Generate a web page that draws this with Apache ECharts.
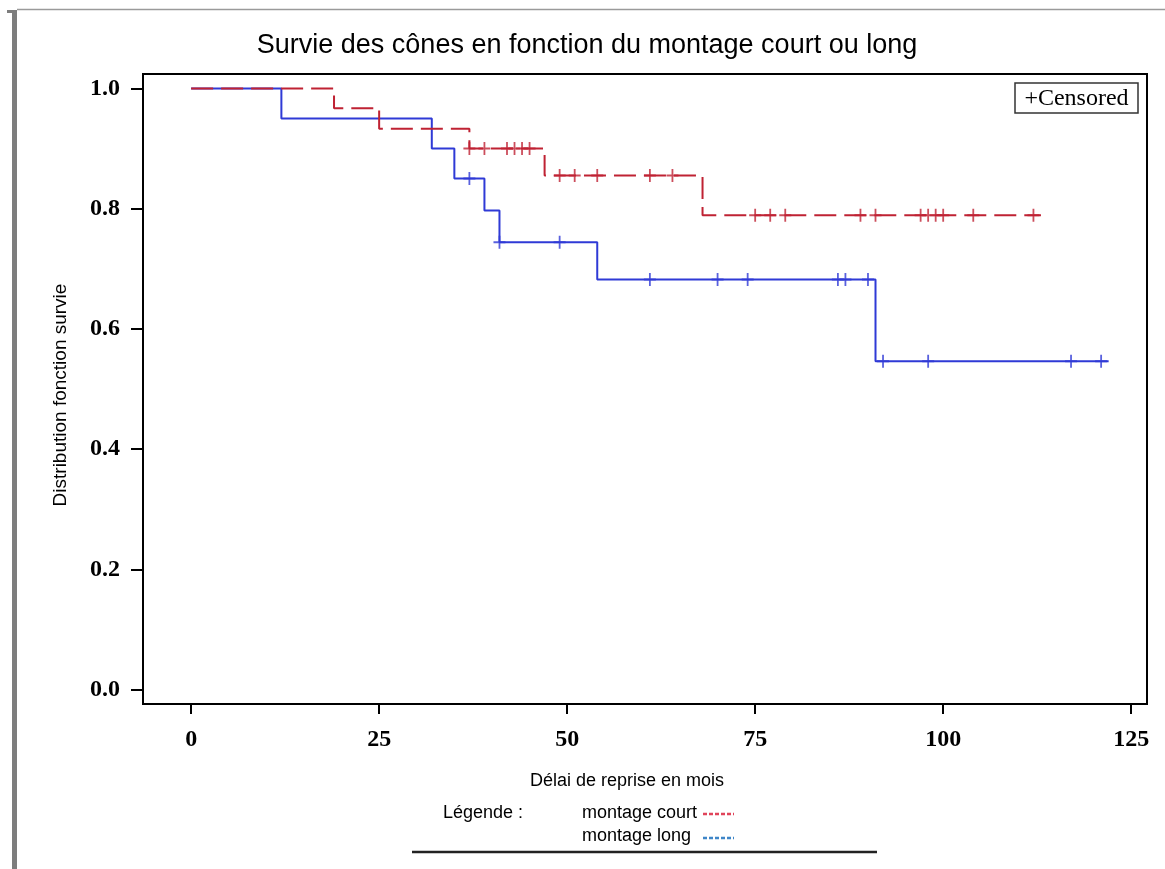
<!DOCTYPE html>
<html>
<head>
<meta charset="utf-8">
<script src="https://cdn.jsdelivr.net/npm/echarts@6/dist/echarts.min.js"></script>
<style>
  html, body { margin: 0; padding: 0; background: #ffffff; }
  #chart { width: 1165px; height: 869px; }
</style>
</head>
<body>
<div id="chart"></div>
<script>
// ---- Data ----
var titleText = 'Survie des cônes en fonction du montage court ou long';
var xAxisTitle = 'Délai de reprise en mois';
var yAxisTitle = 'Distribution fonction survie';
var xTickValues = [0, 25, 50, 75, 100, 125];
var yTickValues = [0.0, 0.2, 0.4, 0.6, 0.8, 1.0];

// montage court (red, dashed): step times and survival after each step
var courtTimes    = [0, 19, 25, 37, 47, 68, 113];
var courtSurvival = [1.0, 0.967, 0.933, 0.900, 0.855, 0.789, 0.789];
var courtCensorTimes = [37, 39, 42, 43, 44, 45, 49, 51, 54, 61, 64, 75, 77, 79, 89, 91, 97, 98, 99, 100, 104, 112];

// montage long (blue, solid)
var longTimes    = [0, 12, 32, 35, 39, 41, 54, 91, 122];
var longSurvival = [1.0, 0.950, 0.900, 0.850, 0.797, 0.744, 0.682, 0.546, 0.546];
var longCensorTimes = [37, 41, 49, 61, 70, 74, 86, 87, 90, 92, 98, 117, 121];

var legendLabel = 'Légende :';
var seriesNames = ['montage court', 'montage long'];
var censoredLabel = '+Censored';

// ---- helpers ----
function stepValueAt(times, surv, t) {
  var v = surv[0];
  for (var i = 0; i < times.length; i++) { if (times[i] <= t) v = surv[i]; }
  return v;
}
function zip(a, b) { return a.map(function (v, i) { return [v, b[i]]; }); }
function censorPoints(ct, times, surv) {
  return ct.map(function (t) { return [t, stepValueAt(times, surv, t)]; });
}

var RED = '#bf2233';
var BLUE = '#2f3ad6';
var plusPath = 'path://M8.5,0 h3 v8.5 h8.5 v3 h-8.5 v8.5 h-3 v-8.5 h-8.5 v-3 h8.5 z';
var serif = "'Liberation Serif', 'Times New Roman', serif";
var sans = "'Liberation Sans', Arial, sans-serif";

var chart = echarts.init(document.getElementById('chart'), null, { renderer: 'canvas' });

var option = {
  animation: false,
  backgroundColor: '#ffffff',
  grid: {
    left: 143, top: 74, right: 18, bottom: 165,
    show: true, borderColor: '#000', borderWidth: 2, backgroundColor: 'transparent'
  },
  xAxis: {
    type: 'value',
    min: -6.4, max: 127.1,
    axisLine: { show: false, onZero: false },
    splitLine: { show: false },
    axisTick: { show: true, length: 10, customValues: xTickValues, lineStyle: { color: '#000', width: 2 } },
    axisLabel: {
      customValues: xTickValues, margin: 24,
      color: '#000', fontFamily: serif, fontSize: 24, fontWeight: 'bold'
    }
  },
  yAxis: {
    type: 'value',
    min: -0.024, max: 1.024,
    axisLine: { show: false, onZero: false },
    splitLine: { show: false },
    axisTick: { show: true, length: 12, customValues: yTickValues, lineStyle: { color: '#000', width: 2 } },
    axisLabel: {
      customValues: yTickValues, margin: 23,
      color: '#000', fontFamily: serif, fontSize: 24, fontWeight: 'bold',
      formatter: function (v) { return v.toFixed(1); }
    }
  },
  series: [
    {
      name: seriesNames[1], type: 'line', step: 'end', showSymbol: false,
      data: zip(longTimes, longSurvival),
      lineStyle: { color: BLUE, width: 2 }, z: 2
    },
    {
      name: seriesNames[1] + ' censored', type: 'scatter',
      data: censorPoints(longCensorTimes, longTimes, longSurvival),
      symbol: plusPath, symbolSize: [12, 13], symbolKeepAspect: false,
      itemStyle: { color: BLUE }, z: 3
    },
    {
      name: seriesNames[0], type: 'line', step: 'end', showSymbol: false,
      data: zip(courtTimes, courtSurvival),
      lineStyle: { color: RED, width: 2, type: [22, 8] }, z: 4
    },
    {
      name: seriesNames[0] + ' censored', type: 'scatter',
      data: censorPoints(courtCensorTimes, courtTimes, courtSurvival),
      symbol: plusPath, symbolSize: [12, 13], symbolKeepAspect: false,
      itemStyle: { color: RED }, z: 5
    }
  ],
  graphic: [
    // page frame
    { type: 'line', shape: { x1: 17, y1: 9.5, x2: 1165, y2: 9.5 }, style: { stroke: '#9a9a9a', lineWidth: 1.5 } },
    { type: 'rect', shape: { x: 12, y: 10, width: 5, height: 859 }, style: { fill: '#7d7d7d' } },
    { type: 'rect', shape: { x: 7, y: 10, width: 10, height: 3 }, style: { fill: '#7d7d7d' } },
    // title
    { type: 'text', x: 587, y: 46, style: { text: titleText, fill: '#000', font: '27px ' + sans, textAlign: 'center', textVerticalAlign: 'middle' } },
    // axis titles
    { type: 'text', x: 627, y: 781, style: { text: xAxisTitle, fill: '#000', font: '18px ' + sans, textAlign: 'center', textVerticalAlign: 'middle' } },
    { type: 'text', x: 61, y: 395, rotation: Math.PI / 2, style: { text: yAxisTitle, fill: '#000', font: '19px ' + sans, textAlign: 'center', textVerticalAlign: 'middle' } },
    // censored legend box
    { type: 'rect', shape: { x: 1015, y: 83, width: 123, height: 30 }, style: { fill: '#fff', stroke: '#333', lineWidth: 1.5 }, z: 10 },
    { type: 'text', x: 1076.5, y: 98.5, z: 11, style: { text: censoredLabel, fill: '#000', font: '24px ' + serif, textAlign: 'center', textVerticalAlign: 'middle' } },
    // bottom legend
    { type: 'text', x: 443, y: 813, style: { text: legendLabel, fill: '#000', font: '18px ' + sans, textAlign: 'left', textVerticalAlign: 'middle' } },
    { type: 'text', x: 582, y: 813, style: { text: seriesNames[0], fill: '#000', font: '18px ' + sans, textAlign: 'left', textVerticalAlign: 'middle' } },
    { type: 'line', shape: { x1: 703, y1: 814, x2: 734, y2: 814 }, style: { stroke: '#e0445a', lineWidth: 2.5, lineDash: [4, 2] } },
    { type: 'text', x: 582, y: 836, style: { text: seriesNames[1], fill: '#000', font: '18px ' + sans, textAlign: 'left', textVerticalAlign: 'middle' } },
    { type: 'line', shape: { x1: 703, y1: 838, x2: 734, y2: 838 }, style: { stroke: '#3f86c8', lineWidth: 2.5, lineDash: [4, 2] } },
    { type: 'line', shape: { x1: 412, y1: 852, x2: 877, y2: 852 }, style: { stroke: '#222', lineWidth: 2.5 } }
  ]
};
chart.setOption(option);
</script>
</body>
</html>
